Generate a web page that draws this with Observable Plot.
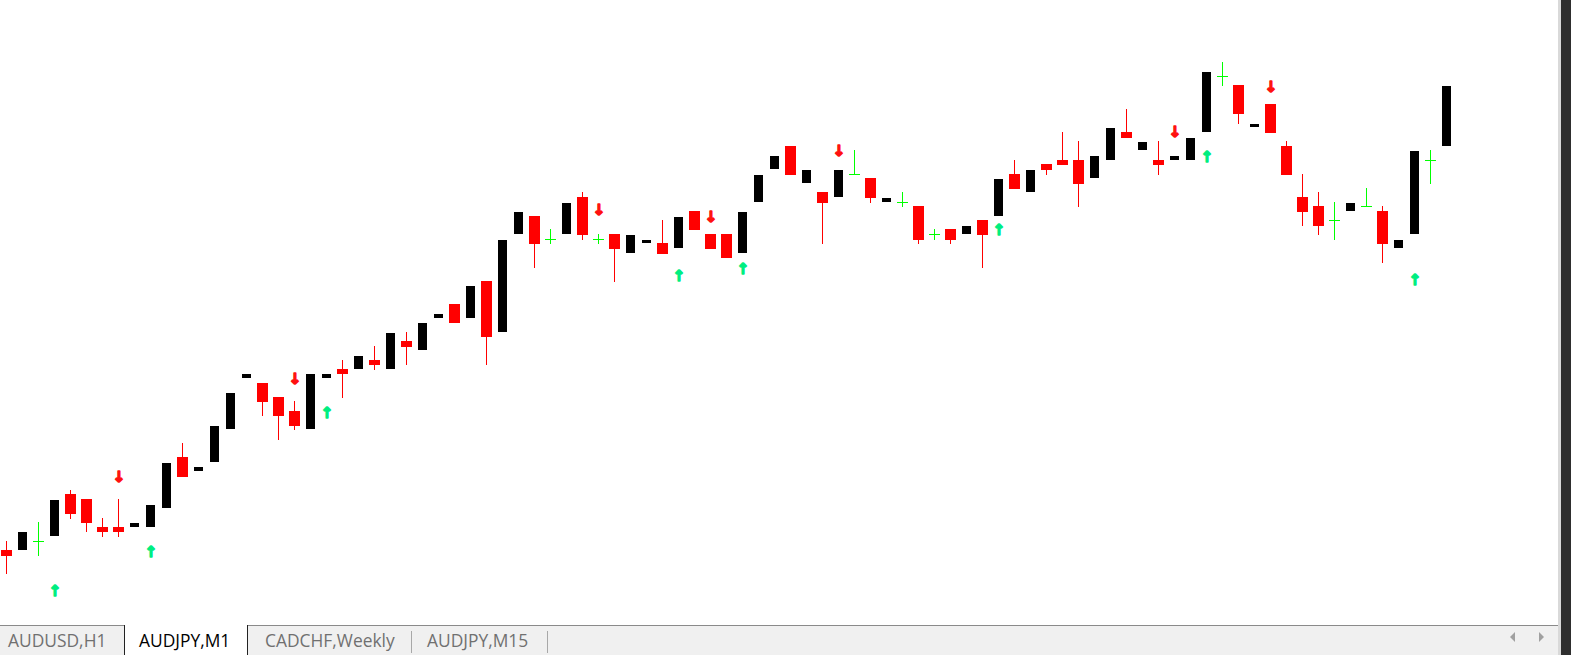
<!DOCTYPE html>
<html>
<head>
<meta charset="utf-8">
<script src="https://cdn.jsdelivr.net/npm/d3@7"></script>
<script src="https://cdn.jsdelivr.net/npm/@observablehq/plot@0.6"></script>
<style>
  html, body { margin: 0; padding: 0; }
  body { width: 1571px; height: 655px; overflow: hidden; position: relative; background: #ffffff; font-family: "Open Sans", "Noto Sans", sans-serif; }
  #chart { position: absolute; left: 0; top: 0; width: 1558px; height: 625px; background: #ffffff; }
  #edge { position: absolute; left: 1558px; top: 0; width: 3px; height: 655px; background: #d9d9d9; }
  #dark { position: absolute; left: 1561px; top: 0; width: 10px; height: 655px; background: #2e2e2e; }
  #tabs { position: absolute; left: 0; top: 625px; width: 1558px; height: 30px; background: #f0f0f0; border-top: 1px solid #8a8a8a; box-sizing: border-box; }
  .tab { position: absolute; top: 0; height: 30px; line-height: 29px; font-size: 17.4px; color: #707070; white-space: nowrap; box-sizing: border-box; }
  .tab.active { background: #ffffff; color: #000000; border-left: 1px solid #222; border-right: 1px solid #222; top: -1px; height: 31px; line-height: 31px; }
  .sep { position: absolute; top: 5px; width: 1px; height: 22px; background: #a8a8a8; }
  .tri-l { position: absolute; top: 632px; left: 1510px; width: 0; height: 0; border-top: 5px solid transparent; border-bottom: 5px solid transparent; border-right: 5px solid #a0a0a0; }
  .tri-r { position: absolute; top: 632px; left: 1539px; width: 0; height: 0; border-top: 5px solid transparent; border-bottom: 5px solid transparent; border-left: 5px solid #a0a0a0; }
</style>
</head>
<body>
<div id="chart"></div>
<div id="edge"></div>
<div id="dark"></div>
<div id="tabs"></div>
<div class="tri-l"></div>
<div class="tri-r"></div>
<script>
// Candle prices (chart units), one entry per bar from left to right
const opens  = [75,75,84,89,131,126,98,98,98,98,117,168,154,163,196,247,242,228,214,196,247,256,256,265,256,284,275,307,321,307,344,293,391,409,386,391,428,386,391,372,382,382,377,414,391,391,372,423,456,479,442,433,428,451,447,423,423,419,391,396,391,405,409,451,433,461,465,465,447,465,493,475,465,465,465,493,549,540,498,521,479,428,419,405,414,419,414,377,391,465,479];
const highs  = [84,93,103,125,135,126,107,126,102,120,162,182,158,199,232,251,242,228,224,251,251,265,269,279,292,293,302,311,321,339,344,385,413,409,396,422,433,391,391,390,385,405,408,414,391,391,413,450,469,479,455,433,455,475,447,427,433,419,396,396,399,405,446,465,455,461,493,484,469,497,516,483,484,469,487,553,563,540,501,521,484,451,433,423,422,437,419,385,474,475,539];
const lows   = [51,75,69,89,106,93,88,88,98,98,117,148,154,163,196,247,209,185,195,196,247,227,256,255,256,260,275,307,302,307,260,293,391,357,381,391,385,381,343,372,382,371,377,395,376,367,372,423,456,450,442,381,428,451,422,423,418,381,385,381,391,357,409,436,433,450,460,418,447,465,487,475,450,465,465,493,539,501,498,492,450,399,390,385,414,419,362,377,391,441,479];
const closes = [69,93,84,125,111,102,93,93,102,120,162,148,158,199,232,251,223,209,199,251,251,251,269,260,292,278,302,311,302,339,288,385,413,381,386,422,390,386,376,390,385,371,408,395,376,367,413,450,469,450,455,422,455,451,427,427,423,385,391,385,399,390,446,436,455,455,460,441,469,497,487,483,460,469,487,553,549,511,501,492,450,413,399,405,422,419,381,385,474,465,539];

// Signal arrows: bar index and price level of each arrow
const upArrowBars     = [3, 9, 20, 42, 46, 62, 75, 88];
const upArrowPrices   = [34, 73, 212, 349, 356, 395, 468, 345];
const downArrowBars   = [7, 18, 37, 44, 52, 73, 79];
const downArrowPrices = [148, 246, 415, 408, 474, 493, 538];

// Chart tabs
const tabLabels = ["AUDUSD,H1", "AUDJPY,M1", "CADCHF,Weekly", "AUDJPY,M15"];
const activeTab = 1;

const bars = opens.map((o, i) => ({i, o, h: highs[i], l: lows[i], c: closes[i]}));
const upBars = bars.filter(d => d.c > d.o);
const downBars = bars.filter(d => d.c < d.o);
const dojiBars = bars.filter(d => d.c === d.o);
const ups = upArrowBars.map((b, k) => ({i: b, p: upArrowPrices[k]}));
const downs = downArrowBars.map((b, k) => ({i: b, p: downArrowPrices[k]}));

const halfDoji = 5.5 / 16;

const chart = Plot.plot({
  width: 1558,
  height: 625,
  margin: 0,
  style: {background: "#ffffff", overflow: "visible"},
  x: {domain: [-0.375, 97], range: [0, 1558], axis: null},
  y: {domain: [0, 625], range: [625, 0], axis: null},
  marks: [
    // wicks
    Plot.ruleX(downBars, {x: "i", y1: "l", y2: "h", stroke: "#ff0000", strokeWidth: 1}),
    Plot.ruleX(upBars, {x: "i", y1: "l", y2: "h", stroke: "#000000", strokeWidth: 1}),
    Plot.ruleX(dojiBars, {x: "i", y1: "l", y2: "h", stroke: "#00ff00", strokeWidth: 1}),
    // bodies
    Plot.ruleX(downBars, {x: "i", y1: "o", y2: "c", stroke: "#ff0000", strokeWidth: 11}),
    Plot.ruleX(upBars, {x: "i", y1: "o", y2: "c", stroke: "#000000", strokeWidth: 9}),
    Plot.ruleY(dojiBars, {y: "o", x1: d => d.i - halfDoji, x2: d => d.i + halfDoji, stroke: "#00ff00", strokeWidth: 1, dx: 0.5}),
    // arrows
    Plot.text(ups, {x: "i", y: "p", text: () => "↑", fill: "#00ee80", stroke: "#00ee80", strokeWidth: 1.4, fontSize: 15, fontWeight: "bold", fontFamily: "DejaVu Sans", dx: 0.5}),
    Plot.text(downs, {x: "i", y: "p", text: () => "↓", fill: "#ff1010", stroke: "#ff1010", strokeWidth: 1.4, fontSize: 15, fontWeight: "bold", fontFamily: "DejaVu Sans", dx: 0.5})
  ]
});
document.getElementById("chart").appendChild(chart);

// tab bar
const tabStarts = [0, 124, 248, 411];
const tabEnds = [124, 248, 411, 547];
const textPad = [8, 14, 17, 16];
const tabs = document.getElementById("tabs");
tabLabels.forEach((label, k) => {
  const t = document.createElement("div");
  t.className = "tab" + (k === activeTab ? " active" : "");
  t.style.left = tabStarts[k] + "px";
  t.style.width = (tabEnds[k] - tabStarts[k]) + "px";
  t.style.paddingLeft = textPad[k] + "px";
  t.textContent = label;
  tabs.appendChild(t);
});
[411, 547].forEach(x => {
  const s = document.createElement("div");
  s.className = "sep";
  s.style.left = x + "px";
  tabs.appendChild(s);
});
</script>
</body>
</html>
